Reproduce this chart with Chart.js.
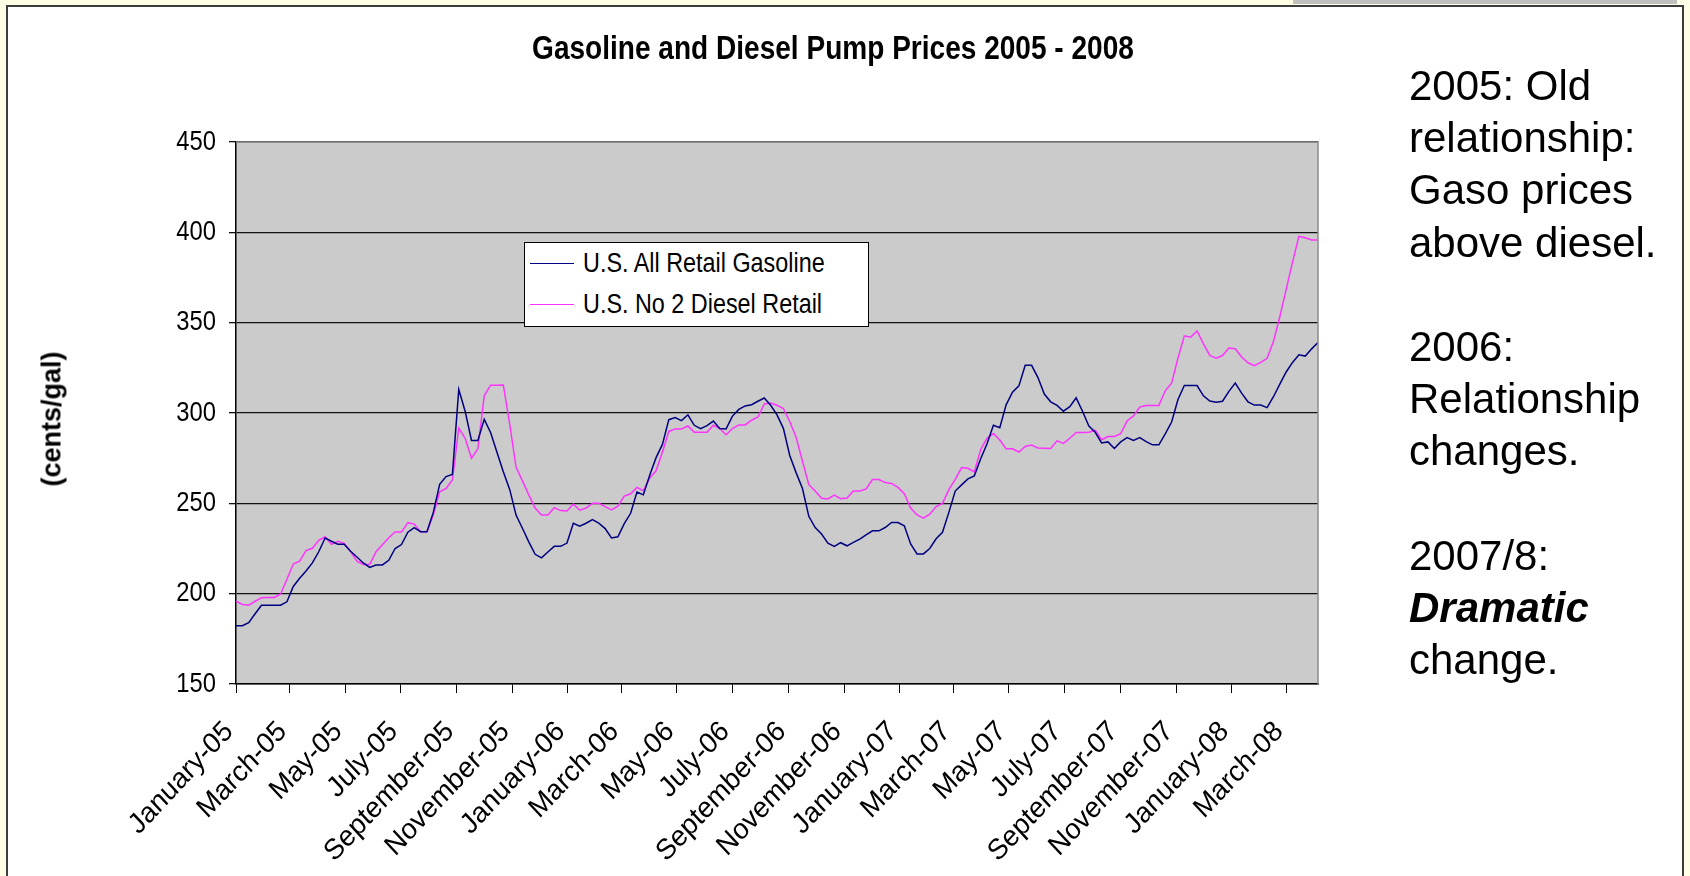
<!DOCTYPE html>
<html>
<head>
<meta charset="utf-8">
<script src="https://cdn.jsdelivr.net/npm/chart.js@4.4.1/dist/chart.umd.min.js"></script>
<style>
  html, body { margin:0; padding:0; }
  body { width:1690px; height:876px; background:#FFFFE6; position:relative; overflow:hidden;
         font-family:"Liberation Sans", Arial, sans-serif; }
  #frame { position:absolute; left:6px; top:5px; width:1674px; height:900px;
           border:2px solid #3c3c3c; background:#fff; }
  #graybar { position:absolute; left:1293px; top:0; width:384px; height:4px; background:#c0c0c0; }
  #wrap { position:absolute; left:0; top:0; width:1690px; height:876px; }
  #title { position:absolute; left:833px; top:30px; transform:translateX(-50%) scaleX(0.85);
           font-weight:bold; font-size:33px; line-height:36px; white-space:nowrap; color:#000; }
  #ytitle { position:absolute; left:52px; top:419px; transform:translate(-50%,-50%) rotate(-90deg);
            font-weight:bold; font-size:27px; white-space:nowrap; color:#000; }
  #legend { position:absolute; left:524px; top:242px; width:343px; height:83px;
            border:1.5px solid #000; background:#fff; }
  .lline { position:absolute; left:5px; width:44px; height:0; }
  .ltext { position:absolute; left:58px; font-size:27.5px; line-height:32px; white-space:nowrap; color:#000;
           transform:scaleX(0.85); transform-origin:0 50%; }
  #notes { position:absolute; left:1409px; top:60px; font-size:42px; line-height:52.2px; color:#000; }
</style>
</head>
<body>
<div id="frame"></div>
<div id="graybar"></div>
<div id="wrap"><canvas id="c" width="1690" height="876"></canvas></div>
<div id="title">Gasoline and Diesel Pump Prices 2005 - 2008</div>
<div id="ytitle">(cents/gal)</div>
<div id="legend"></div>
<div id="notes">2005: Old<br>relationship:<br>Gaso prices<br>above diesel.<br>&nbsp;<br>2006:<br>Relationship<br>changes.<br>&nbsp;<br>2007/8:<br><b><i>Dramatic</i></b><br>change.</div>
<script>
// ---- data (weekly, starting Monday 3 Jan 2005), cents per gallon ----
const START_DATE = Date.UTC(2005, 0, 3);
const SERIES_NAMES = ["U.S. All Retail Gasoline", "U.S. No 2 Diesel Retail"];

const GASOLINE = [
 182.3,182.3,184,188.9,193.6,193.6,193.6,193.6,195.5,204,
 208.5,212.5,217,223.2,230.8,229,227.4,227.4,223.5,220.3,
 217,214.5,215.9,215.9,218.5,225,227.2,234,236.6,234.3,
 234.3,245,260.5,264.8,266,313,301,284.8,284.8,296.5,
 289.2,278.3,267.5,257.7,243.5,236.2,228.7,221.8,219.8,223.1,
 226.2,226.2,228,239,237.4,239,241,239,236,230.8,
 231.5,238.8,244.5,256.3,254.7,265.5,275.3,282.6,296.3,297.5,
 295.8,299,293.2,291.3,293,295.5,291.4,291.2,298.3,302,
 303.9,304.6,306.5,308.3,304.3,299,291.5,276.5,267,258.2,
 242.8,236.6,233,228,226.2,228.2,226.5,228.4,230.2,232.6,
 234.8,234.8,236.6,239.4,239.4,237.6,227.5,222,222,225,
 230.4,234,245,256.8,260.2,263.5,265.2,274.7,283,293.2,
 291.8,304.5,311.5,315,326.4,326.4,319.6,310.5,306.2,304.2,
 301,303.5,308.4,301,292.8,289.3,283.4,284,280.4,284,
 286.4,284.8,286.4,284.2,282.4,282.4,288.5,295,307.5,315.2,
 315.2,315.2,309.5,306.6,306,306.5,312,316.6,311,306.2,
 304.4,304.4,303,309,316,322.7,328,332.2,331.5,335.5,
 339
];

const DIESEL = [
 195.8,194,193.6,195.8,197.7,197.9,197.9,199.8,208,216.4,
 218,223.8,225.1,229.5,231.5,227.3,229,227.8,223.3,218,
 216.2,216.1,223.2,227.1,231,234.1,234.1,239.3,238.5,234.3,
 234.3,243.6,256.4,258.2,263,291.6,286,274.9,280.2,309.5,
 315.4,315.4,315.5,294,270.1,262.4,254.7,247.4,243.6,243.6,
 247.6,246,245.8,249.6,246.2,247.4,250,250,248.2,246.4,
 248.4,254,255.3,258.8,257,264,268,278.4,289.8,291.2,
 291.2,292.8,289.4,289.4,289.4,293.2,291.4,288,291.4,293.4,
 293.4,296,297.8,305,305.5,304.3,302.5,295.3,286.6,273.3,
 260.3,256.8,252.8,252.4,254.6,252.6,253,256.8,256.8,258,
 263.2,263.2,261.5,261,258.8,255.3,247.4,243.6,241.8,244,
 248.2,250,257.6,263.3,269.8,269.4,267.4,279.8,286,288.6,
 285,280.2,280.2,278.4,281.5,282.3,280.6,280.5,280.4,284.6,
 283.2,286,289.2,289.2,289.4,290.5,285.2,287,287,288.6,
 295.6,298.4,303.3,304.2,304.2,304.2,312.3,316.6,330.4,342.7,
 342,345.4,338.3,331.9,330.4,331.8,336,335.6,331,327.8,
 326.2,328,330.3,339.6,353.3,368.4,383.5,397.8,397,395.8,
 395.8
];

const TICK_LABELS = [
 "January-05","March-05","May-05","July-05","September-05","November-05",
 "January-06","March-06","May-06","July-06","September-06","November-06",
 "January-07","March-07","May-07","July-07","September-07","November-07",
 "January-08","March-08"
];
const Y_MIN = 150, Y_MAX = 450, Y_STEP = 50;

// week dates (categories) and tick positions (3rd day of every other month, in weeks)
const WEEK_MS = 7 * 86400000;
const WEEK_DATES = GASOLINE.map((_, i) => new Date(START_DATE + i * WEEK_MS));
const TICK_WEEKS = TICK_LABELS.map((_, i) => {
  const m = i * 2;
  return (Date.UTC(2005 + Math.floor(m / 12), m % 12, 3) - START_DATE) / WEEK_MS;
});

const FONT = '"Liberation Sans", Arial, sans-serif';

// legend (HTML)
const COLORS = ["#000080", "#FF33FF"];
const lg = document.getElementById('legend');
SERIES_NAMES.forEach((n, i) => {
  const l = document.createElement('div');
  l.className = 'lline';
  l.style.top = (20 + i * 41) + 'px';
  l.style.borderTop = '1.5px solid ' + COLORS[i];
  lg.appendChild(l);
  const t = document.createElement('div');
  t.className = 'ltext';
  t.style.top = (4 + i * 41) + 'px';
  t.textContent = n;
  lg.appendChild(t);
});

// text squeezed horizontally on screen (sx), optionally rotated
function squeezedText(ctx, text, x, y, angle, sx, align) {
  ctx.save();
  ctx.translate(x, y);
  ctx.scale(sx, 1);
  ctx.rotate(angle);
  ctx.textAlign = align;
  ctx.textBaseline = 'middle';
  ctx.fillText(text, 0, 0);
  ctx.restore();
}

const plotBg = {
  id: 'plotBg',
  beforeDraw(chart) {
    const a = chart.chartArea, ctx = chart.ctx;
    ctx.save();
    ctx.fillStyle = '#CBCBCB';
    ctx.fillRect(a.left, a.top, a.right - a.left, a.bottom - a.top);
    ctx.restore();
  },
  afterDatasetsDraw(chart) {
    const a = chart.chartArea, ctx = chart.ctx;
    ctx.save();
    ctx.strokeStyle = '#8c8c8c';
    ctx.lineWidth = 1.5;
    ctx.beginPath();
    ctx.moveTo(a.left, a.top); ctx.lineTo(a.right, a.top); ctx.lineTo(a.right, a.bottom);
    ctx.stroke();
    ctx.restore();
  },
  afterDraw(chart) {
    const ctx = chart.ctx, xs = chart.scales.x, ys = chart.scales.y, a = chart.chartArea;
    ctx.save();
    ctx.fillStyle = '#000';
    ctx.font = '28px ' + FONT;
    ys.ticks.forEach(t => {
      squeezedText(ctx, String(t.value), a.left - 20, ys.getPixelForValue(t.value), 0, 0.85, 'right');
    });
    ctx.font = '29px ' + FONT;
    xs.ticks.forEach((t, i) => {
      squeezedText(ctx, TICK_LABELS[i], xs.getPixelForValue(t.value) - 7, a.bottom + 43, -Math.PI / 4, 0.93, 'right');
    });
    ctx.restore();
  }
};

new Chart(document.getElementById('c'), {
  type: 'line',
  data: {
    datasets: [
      { label: SERIES_NAMES[0], data: GASOLINE.map((v, i) => ({ x: i, y: v })),
        borderColor: COLORS[0], borderWidth: 1.5, pointRadius: 0, tension: 0, fill: false },
      { label: SERIES_NAMES[1], data: DIESEL.map((v, i) => ({ x: i, y: v })),
        borderColor: COLORS[1], borderWidth: 1.5, pointRadius: 0, tension: 0, fill: false }
    ]
  },
  options: {
    responsive: false,
    animation: false,
    layout: { padding: { left: 0, top: 142, right: 372, bottom: 0 } },
    plugins: { legend: { display: false }, title: { display: false }, tooltip: { enabled: false } },
    scales: {
      x: {
        type: 'linear', min: 0, max: GASOLINE.length - 1,
        afterBuildTicks: s => { s.ticks = TICK_WEEKS.map(v => ({ value: v })); },
        afterFit: s => { s.height = 876 - 684; },
        grid: { drawOnChartArea: false, drawTicks: true, tickLength: 9, color: '#000', lineWidth: 1 },
        border: { color: '#000', width: 1.5 },
        ticks: { display: false, autoSkip: false, callback: (v, i) => TICK_LABELS[i] }
      },
      y: {
        min: Y_MIN, max: Y_MAX,
        afterFit: s => { s.width = 236; },
        grid: { color: '#111', lineWidth: 1.3, drawTicks: true, tickLength: 7 },
        border: { color: '#000', width: 1.5 },
        ticks: { display: false, stepSize: Y_STEP }
      }
    }
  },
  plugins: [plotBg]
});
</script>
</body>
</html>
